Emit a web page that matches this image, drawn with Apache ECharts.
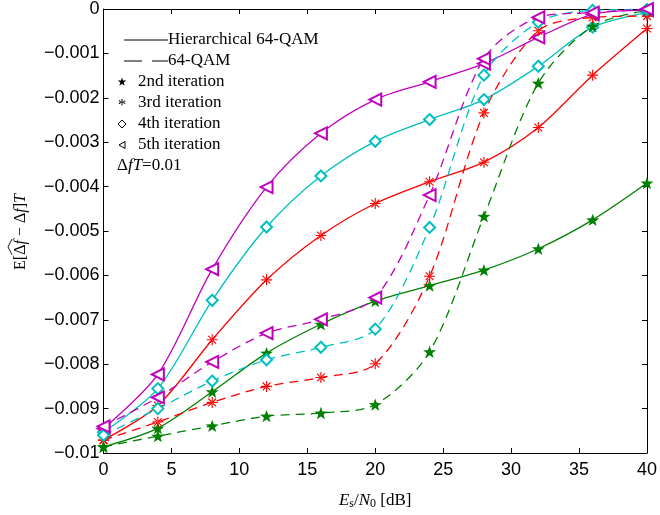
<!DOCTYPE html>
<html>
    <head>
        <meta charset="UTF-8">
        <title></title>
        <script src="https://cdn.jsdelivr.net/npm/echarts@6/dist/echarts.min.js"></script>
        <style>
            html, body { margin: 0; padding: 0; background: #fff; }
        </style>
    </head>
    <body>
        <div id="main" style="width: 660px; height: 515px;"></div>
        <script>
            // Es/N0 [dB]
            var snr = [0, 4, 8, 12, 16, 20, 24, 28, 32, 36, 40];
            // Hierarchical 64-QAM, 2nd..5th iteration
            var hier2 = [-0.00986, -0.00944, -0.00862, -0.00775, -0.0071, -0.00658, -0.00623, -0.00588, -0.0054, -0.00475, -0.00392];
            var hier3 = [-0.00971, -0.00893, -0.00745, -0.0061, -0.0051, -0.00438, -0.00389, -0.00345, -0.00267, -0.00149, -0.00044];
            var hier4 = [-0.00953, -0.00855, -0.00656, -0.00491, -0.00376, -0.00298, -0.00249, -0.00204, -0.00129, -0.00041, -0.00008];
            var hier5 = [-0.00945, -0.00823, -0.00586, -0.00401, -0.0028, -0.00204, -0.00164, -0.00123, -0.00064, -0.00012, -0.00003];
            // 64-QAM, 2nd..5th iteration
            var qam2 = [-0.00986, -0.00962, -0.00939, -0.00917, -0.0091, -0.00891, -0.00772, -0.00467, -0.00167, -0.00039, -0.00003];
            var qam3 = [-0.00971, -0.0093, -0.00886, -0.0085, -0.0083, -0.00799, -0.00602, -0.00234, -0.00049, -0.00019, -0.00016];
            var qam4 = [-0.0096, -0.009, -0.00838, -0.0079, -0.00762, -0.00721, -0.00492, -0.00149, -0.0003, -0.00003, -0.00001];
            var qam5 = [-0.0094, -0.00875, -0.00795, -0.0073, -0.00699, -0.0065, -0.00419, -0.00112, -0.00019, -0.00008, 0];

            var xTicks = [0, 40, 5];
            var yTicks = [-0.01, 0, 0.001];

            // 标记形状
            var STAR = 'path://M0,-10L2.35,-3.24L9.51,-3.09L3.8,1.24L5.88,8.09L0,4L-5.88,8.09L-3.8,1.24L-9.51,-3.09L-2.35,-3.24Z';
            var ASTER = 'path://M-10,-1L10,-1L10,1L-10,1Z M-1,-10L1,-10L1,10L-1,10Z' +
                'M-7.78,-6.36L6.36,7.78L7.78,6.36L-6.36,-7.78Z M7.78,-6.36L-6.36,7.78L-7.78,6.36L6.36,-7.78Z';

            var GREEN = '#008000', RED = '#ff0000', CYAN = '#00bfbf', MAGENTA = '#bf00bf';

            function zip(ys) {
                return snr.map(function (x, i) { return [x, ys[i]]; });
            }

            function mk(name, ys, color, dashed, symbol, size, rotate, hollow) {
                return {
                    name: name,
                    type: 'line',
                    data: zip(ys),
                    smooth: 0.3,
                    symbol: symbol,
                    symbolSize: size,
                    symbolRotate: rotate || 0,
                    symbolKeepAspect: true,
                    showAllSymbol: true,
                    lineStyle: { color: color, width: 1.3, type: dashed ? [9, 6] : 'solid' },
                    itemStyle: hollow ? { color: color, borderColor: color, borderWidth: 1.3 } : { color: color, borderWidth: 0 },
                    emphasis: { disabled: true },
                    z: 2
                };
            }

            function fmt(v) {
                if (Math.abs(v) < 1e-9) return '0';
                return '\u2212' + String(parseFloat(Math.abs(v).toFixed(4)));
            }

            // 图例里的小星形
            function starPts(cx, cy, r) {
                var pts = [];
                for (var k = 0; k < 10; k++) {
                    var a = (-90 + 36 * k) * Math.PI / 180;
                    var rr = k % 2 ? r * 0.4 : r;
                    pts.push([cx + rr * Math.cos(a), cy + rr * Math.sin(a)]);
                }
                return pts;
            }

            var serif = '"Liberation Serif", "DejaVu Serif", serif';
            var sans = '"Liberation Sans", Arial, sans-serif';

            // 纵轴标题：E[Δf^ − Δf]T，带宽帽
            var ctx = document.createElement('canvas').getContext('2d');
            var yParts = [['E[', false], ['Δ', false], ['f', true], [' − Δ', false], ['f', true], [']', false], ['T', true]];
            var yFs = 16;
            var widths = yParts.map(function (p) {
                ctx.font = (p[1] ? 'italic ' : '') + yFs + 'px ' + serif;
                return ctx.measureText(p[0]).width;
            });
            var totalW = widths.reduce(function (a, b) { return a + b; }, 0);
            var yNameChildren = [];
            var cur = -totalW / 2, hatX0 = 0, hatX1 = 0;
            yParts.forEach(function (p, i) {
                yNameChildren.push({ type: 'text', x: cur, y: 0, style: {
                    text: p[0], font: (p[1] ? 'italic ' : '') + yFs + 'px ' + serif, fill: '#000', verticalAlign: 'middle' } });
                if (i === 1) hatX0 = cur;
                if (i === 2) hatX1 = cur + widths[i] + 1;
                cur += widths[i];
            });
            yNameChildren.push({ type: 'polyline', shape: { points: [[hatX0, -9], [(hatX0 + hatX1) / 2, -13], [hatX1, -9]] },
                style: { stroke: '#000', lineWidth: 0.9, fill: null } });

            var chart = echarts.init(document.getElementById('main'));
            var lx = 124, ly = 40, dy = 21;

            chart.setOption({
                animation: false,
                backgroundColor: '#fff',
                grid: { left: 103.5, right: 13, top: 8, bottom: 57 },
                xAxis: [{
                    type: 'value', min: xTicks[0], max: xTicks[1], interval: xTicks[2],
                    position: 'bottom',
                    name: '{i|E}{sub|s}{u|/}{cal|N}{sub|0}{u| [dB]}',
                    nameLocation: 'middle', nameGap: 38,
                    nameTextStyle: {
                        rich: {
                            i: { fontFamily: serif, fontStyle: 'italic', fontSize: 17, color: '#000' },
                            u: { fontFamily: serif, fontSize: 17, color: '#000' },
                            cal: { fontFamily: serif, fontStyle: 'italic', fontSize: 17, color: '#000' },
                            sub: { fontFamily: serif, fontSize: 12, color: '#000', padding: [7, 0, 0, 0] }
                        }
                    },
                    axisLine: { show: true, onZero: false, lineStyle: { color: '#000', width: 1 } },
                    axisTick: { inside: true, length: 5, lineStyle: { color: '#000' } },
                    axisLabel: { fontFamily: sans, fontSize: 18, color: '#000', margin: 8 },
                    splitLine: { show: false }
                }, {
                    type: 'value', min: xTicks[0], max: xTicks[1], interval: xTicks[2],
                    position: 'top',
                    axisLine: { show: true, onZero: false, lineStyle: { color: '#000', width: 1 } },
                    axisTick: { inside: true, length: 5, lineStyle: { color: '#000' } },
                    axisLabel: { show: false },
                    splitLine: { show: false }
                }],
                yAxis: [{
                    type: 'value', min: yTicks[0], max: yTicks[1], interval: yTicks[2],
                    position: 'left',
                    axisLine: { show: true, onZero: false, lineStyle: { color: '#000', width: 1 } },
                    axisTick: { inside: true, length: 5, lineStyle: { color: '#000' } },
                    axisLabel: { fontFamily: sans, fontSize: 18, color: '#000', margin: 4, formatter: fmt },
                    splitLine: { show: false }
                }, {
                    type: 'value', min: yTicks[0], max: yTicks[1], interval: yTicks[2],
                    position: 'right',
                    axisLine: { show: true, onZero: false, lineStyle: { color: '#000', width: 1 } },
                    axisTick: { inside: true, length: 5, lineStyle: { color: '#000' } },
                    axisLabel: { show: false },
                    splitLine: { show: false }
                }],
                series: [
                    mk('Hierarchical 2nd', hier2, GREEN, false, STAR, 13, 0, false),
                    mk('Hierarchical 3rd', hier3, RED, false, ASTER, 11, 0, false),
                    mk('Hierarchical 4th', hier4, CYAN, false, 'emptyDiamond', 11, 0, true),
                    mk('Hierarchical 5th', hier5, MAGENTA, false, 'emptyTriangle', 12, 90, true),
                    mk('64-QAM 2nd', qam2, GREEN, true, STAR, 13, 0, false),
                    mk('64-QAM 3rd', qam3, RED, true, ASTER, 11, 0, false),
                    mk('64-QAM 4th', qam4, CYAN, true, 'emptyDiamond', 11, 0, true),
                    mk('64-QAM 5th', qam5, MAGENTA, true, 'emptyTriangle', 12, 90, true)
                ],
                graphic: [
                    // 纵轴标题
                    { type: 'group', x: 21, y: 232, rotation: Math.PI / 2, children: yNameChildren },
                    // 图例（MATLAB 风格）
                    { type: 'line', shape: { x1: lx, y1: ly, x2: lx + 44, y2: ly }, style: { stroke: '#000', lineWidth: 1 } },
                    { type: 'text', x: lx + 44, y: ly, style: { text: 'Hierarchical 64-QAM', font: '17px ' + serif, fill: '#000', verticalAlign: 'middle' } },
                    { type: 'line', shape: { x1: lx, y1: ly + dy, x2: lx + 18, y2: ly + dy }, style: { stroke: '#000', lineWidth: 1 } },
                    { type: 'line', shape: { x1: lx + 28, y1: ly + dy, x2: lx + 44, y2: ly + dy }, style: { stroke: '#000', lineWidth: 1 } },
                    { type: 'text', x: lx + 44, y: ly + dy, style: { text: '64-QAM', font: '17px ' + serif, fill: '#000', verticalAlign: 'middle' } },
                    { type: 'polygon', shape: { points: starPts(122, ly + 2 * dy, 4.5) }, style: { fill: '#000' } },
                    { type: 'text', x: 138, y: ly + 2 * dy, style: { text: '2nd iteration', font: '17px ' + serif, fill: '#000', verticalAlign: 'middle' } },
                    { type: 'text', x: 122, y: ly + 3 * dy + 3, style: { text: '*', font: '17px ' + serif, fill: '#000', align: 'center', verticalAlign: 'middle' } },
                    { type: 'text', x: 138, y: ly + 3 * dy, style: { text: '3rd iteration', font: '17px ' + serif, fill: '#000', verticalAlign: 'middle' } },
                    { type: 'polygon', shape: { points: [[122, ly + 4 * dy - 4], [126, ly + 4 * dy], [122, ly + 4 * dy + 4], [118, ly + 4 * dy]] }, style: { fill: 'none', stroke: '#000', lineWidth: 1 } },
                    { type: 'text', x: 138, y: ly + 4 * dy, style: { text: '4th iteration', font: '17px ' + serif, fill: '#000', verticalAlign: 'middle' } },
                    { type: 'polygon', shape: { points: [[119, ly + 5 * dy], [125, ly + 5 * dy - 3.5], [125, ly + 5 * dy + 3.5]] }, style: { fill: 'none', stroke: '#000', lineWidth: 1 } },
                    { type: 'text', x: 138, y: ly + 5 * dy, style: { text: '5th iteration', font: '17px ' + serif, fill: '#000', verticalAlign: 'middle' } },
                    { type: 'text', x: 117, y: ly + 6 * dy, style: {
                        text: '{u|Δ}{i|fT}{u|=0.01}', verticalAlign: 'middle',
                        rich: {
                            u: { fontFamily: serif, fontSize: 17, fill: '#000' },
                            i: { fontFamily: serif, fontStyle: 'italic', fontSize: 17, fill: '#000' }
                        }
                    } }
                ]
            });
        </script>
    </body>
</html>
